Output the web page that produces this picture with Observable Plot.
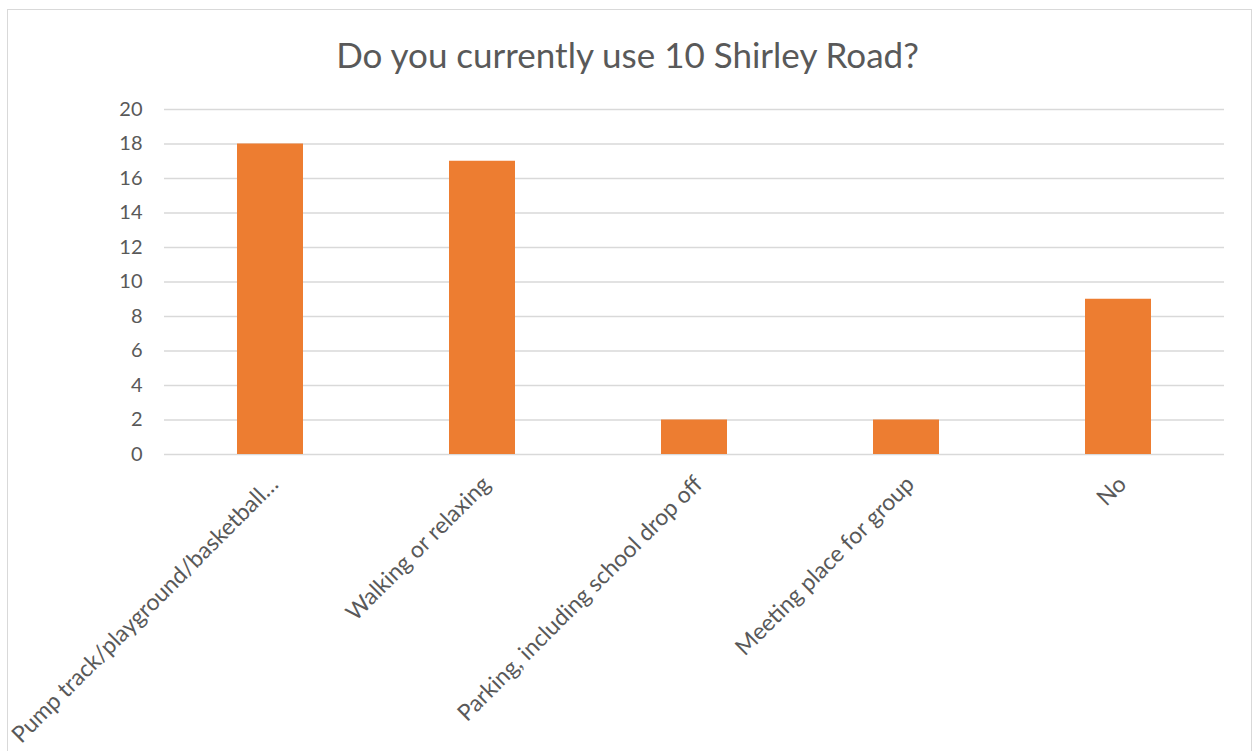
<!DOCTYPE html>
<html><head><meta charset="utf-8">
<script src="https://cdn.jsdelivr.net/npm/d3@7"></script>
<script src="https://cdn.jsdelivr.net/npm/@observablehq/plot@0.6"></script>
<style>
body{margin:0;background:#fff;font-family:Lato,sans-serif;}
#wrap{position:relative;width:1255px;height:751px;overflow:hidden;}
#frame{position:absolute;left:7px;top:9px;width:1245px;height:745px;border:1px solid #d9d9d9;box-sizing:border-box;pointer-events:none;}
#title{height:95px;box-sizing:border-box;padding-top:33px;line-height:1.2;text-align:center;font-size:35px;color:#595959;white-space:nowrap;}
#chart svg{display:block;}
</style>
</head><body>
<div id="wrap">
<div id="frame"></div>
<div id="title">Do you currently use 10 Shirley Road?</div>
<div id="chart"></div>
</div>
<script>
const categories = ["Pump track/playground/basketball…","Walking or relaxing","Parking, including school drop off","Meeting place for group","No"];
const values = [18, 17, 2, 2, 9];
const yTicks = [0,2,4,6,8,10,12,14,16,18,20];

const data = categories.map((c, i) => ({category: c, value: values[i]}));

const chart = Plot.plot({
  width: 1255,
  height: 656,
  marginTop: 14,
  marginBottom: 297,
  marginLeft: 164,
  marginRight: 31,
  style: {fontFamily: "Lato, sans-serif", fontSize: "20px", color: "#595959", background: "transparent"},
  x: {domain: categories, paddingInner: 0.69, paddingOuter: 0.345, label: null},
  y: {domain: [0, 20], label: null},
  marks: [
    Plot.ruleY(yTicks, {stroke: "#d9d9d9", strokeWidth: 1.3}),
    Plot.barY(data, {x: "category", y: "value", fill: "#ED7D31"}),
    Plot.axisY({ticks: yTicks, tickSize: 0, tickPadding: 22, fontSize: 20, label: null}),
    Plot.axisX({tickSize: 0, tickRotate: -45, tickPadding: 26, dx: 4, fontSize: 23, label: null})
  ]
});
document.getElementById("chart").appendChild(chart);
</script>
</body></html>
